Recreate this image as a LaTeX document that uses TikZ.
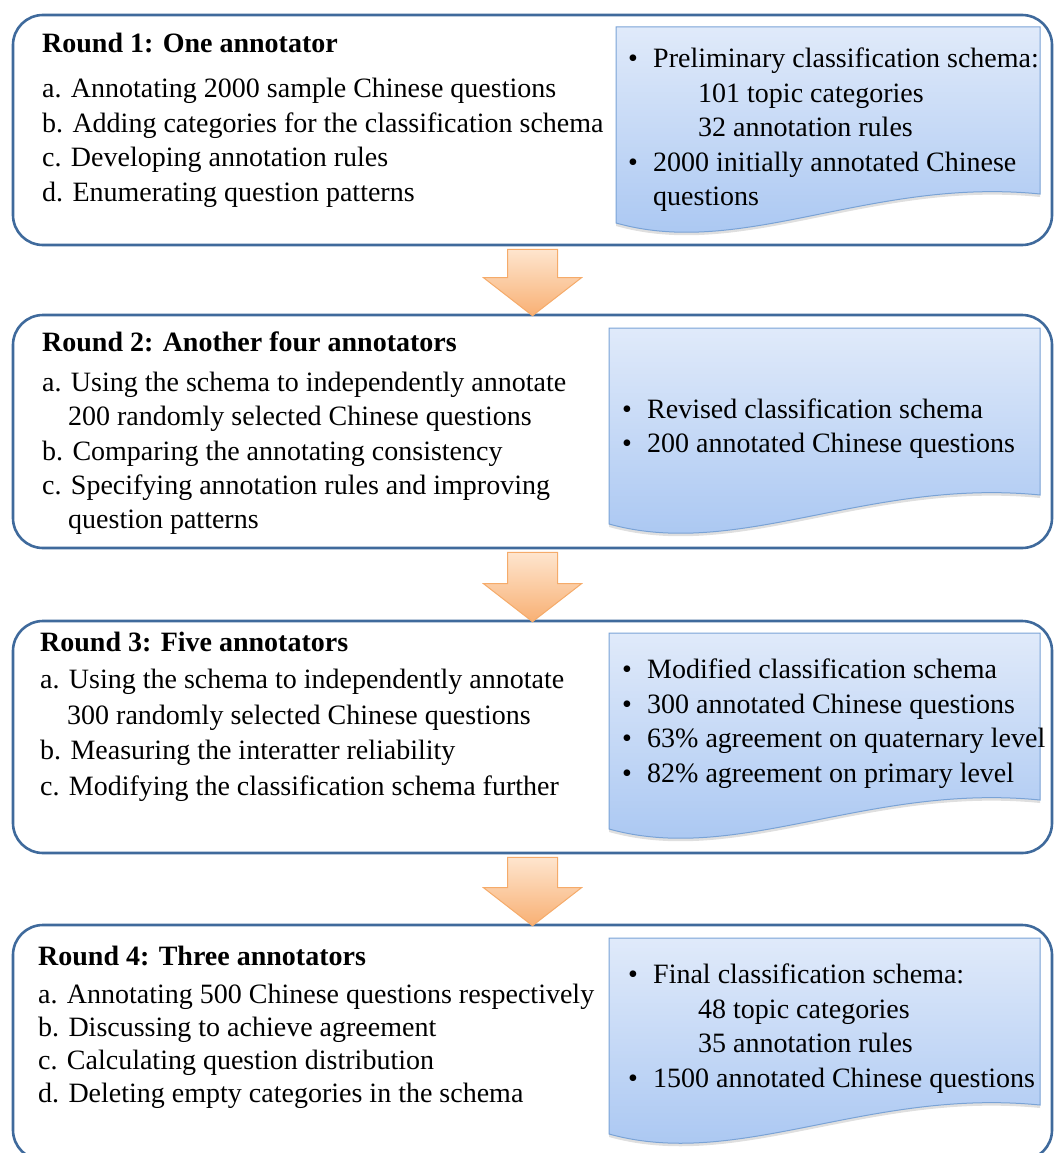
\documentclass[tikz,border=0pt]{standalone}
\usepackage{fontspec}
\setmainfont{Liberation Serif}
\usetikzlibrary{positioning, shadows, calc}

\definecolor{roundblue}{HTML}{3F6A9C}
\definecolor{docline}{HTML}{7AA3D6}
\definecolor{doctop}{HTML}{E0EAFA}
\definecolor{docbottom}{HTML}{A5C4F1}
\definecolor{arrowtop}{HTML}{FEE5CE}
\definecolor{arrowbottom}{HTML}{F8B074}
\definecolor{arrowline}{HTML}{F5AB6A}

% document shape: left x, top y, right x
\newcommand{\docpath}[3]{%
  \draw[docbox] (#1,-#2) -- (#3,-#2) -- (#3,{-#2-167})
    .. controls ({#1+0.6*(#3-#1)},{-#2-150}) and ({#1+0.3*(#3-#1)},{-#2-232}) .. (#1,{-#2-196}) -- cycle;}

% block arrow from one round box to the next
\newcommand{\blockarrow}[2]{%
  \draw[arrowbox] let \p1=(#1.south), \p2=(#2.north) in
    (\x1-25pt,\y1-3pt) -- (\x1+25pt,\y1-3pt) -- (\x1+25pt,\y2+36pt) -- (\x1+49pt,\y2+36pt)
    -- (\x1,\y2-2pt) -- (\x1-49pt,\y2+36pt) -- (\x1-25pt,\y2+36pt) -- cycle;}

\newcommand{\bul}{\makebox[25pt][l]{\textbullet}}

\begin{document}
\begin{tikzpicture}[x=1pt, y=1pt,
    roundbox/.style={draw=roundblue, line width=2.6pt, rounded corners=30pt, minimum width=1039pt},
    docbox/.style={draw=docline, line width=1pt, top color=doctop, bottom color=docbottom,
      drop shadow={shadow xshift=0pt, shadow yshift=-3pt, opacity=0.25}},
    arrowbox/.style={draw=arrowline, line width=1pt, top color=arrowtop, bottom color=arrowbottom},
    title/.style={anchor=north west, inner sep=0pt, font=\fontsize{28}{34}\selectfont\bfseries},
    items/.style={anchor=north west, inner sep=0pt, align=left, font=\fontsize{28}{#1}\selectfont},
    items/.default=34.5]
    \useasboundingbox (0,0) rectangle (1055,-1153);
    \clip (0,0) rectangle (1055,-1153);

    % Round boxes
    \node[roundbox, minimum height=230pt] (r1) at (532.5,-130) {};
    \node[roundbox, minimum height=233pt] (r2) at (532.5,-431.5) {};
    \node[roundbox, minimum height=232pt] (r3) at (532.5,-737) {};
    \node[roundbox, minimum height=235pt] (r4) at (532.5,-1042.5) {};

    % Arrows between rounds
    \blockarrow{r1}{r2}
    \blockarrow{r2}{r3}
    \blockarrow{r3}{r4}

    % Round 1
    \node[title] (t1) at (42,-33) {Round 1: One annotator};
    \node[items] (s1) at (42,-78) {a. Annotating 2000 sample Chinese questions\\
      b. Adding categories for the classification schema\\
      c. Developing annotation rules\\
      d. Enumerating question patterns};
    \docpath{616}{27}{1040}
    \node[items] (d1) at (628,-48) {\bul Preliminary classification schema:\\
      \hspace*{70pt}101 topic categories\\
      \hspace*{70pt}32 annotation rules\\
      \bul 2000 initially annotated Chinese\\
      \hspace*{25pt}questions};

    % Round 2
    \node[title] (t2) at (42,-332) {Round 2: Another four annotators};
    \node[items=34.3] (s2) at (42,-372) {a. Using the schema to independently annotate\\
      \hspace*{26pt}200 randomly selected Chinese questions\\
      b. Comparing the annotating consistency\\
      c. Specifying annotation rules and improving\\
      \hspace*{26pt}question patterns};
    \docpath{609}{328}{1040}
    \node[items=34] (d2) at (622,-399) {\bul Revised classification schema\\
      \bul 200 annotated Chinese questions};

    % Round 3
    \node[title] (t3) at (40,-632) {Round 3: Five annotators};
    \node[items=35.5] (s3) at (40,-669) {a. Using the schema to independently annotate\\
      \hspace*{27pt}300 randomly selected Chinese questions\\
      b. Measuring the interatter reliability\\
      c. Modifying the classification schema further};
    \docpath{609}{633}{1040}
    \node[items=34.5] (d3) at (622,-659) {\bul Modified classification schema\\
      \bul 300 annotated Chinese questions\\
      \bul 63\% agreement on quaternary level\\
      \bul 82\% agreement on primary level};

    % Round 4
    \node[title] (t4) at (38,-946) {Round 4: Three annotators};
    \node[items=33] (s4) at (38,-984) {a. Annotating 500 Chinese questions respectively\\
      b. Discussing to achieve agreement\\
      c. Calculating question distribution\\
      d. Deleting empty categories in the schema};
    \docpath{609}{938}{1040}
    \node[items=34.5] (d4) at (628,-964) {\bul Final classification schema:\\
      \hspace*{70pt}48 topic categories\\
      \hspace*{70pt}35 annotation rules\\
      \bul 1500 annotated Chinese questions};
\end{tikzpicture}
\end{document}
